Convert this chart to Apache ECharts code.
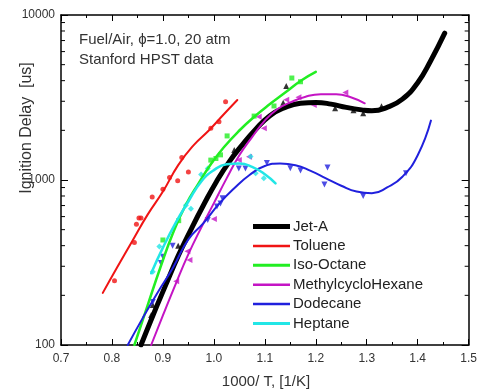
<!DOCTYPE html>
<html>
<head>
<meta charset="utf-8">
<script src="https://cdn.jsdelivr.net/npm/echarts@6/dist/echarts.min.js"></script>
<style>html,body{margin:0;padding:0;background:#fff;}#c{width:480px;height:391px;}</style>
</head>
<body>
<div id="c"></div>
<script>
// ---- data ----
var xTicks = [0.7, 0.8, 0.9, 1.0, 1.1, 1.2, 1.3, 1.4, 1.5];
var yTicks = [100, 1000, 10000];
var yMinor = [200, 300, 400, 500, 600, 700, 800, 900, 2000, 3000, 4000, 5000, 6000, 7000, 8000, 9000];

var jetALine = [[0.857,100],[0.88,150],[0.905,229],[0.93,347],[0.955,501],[0.98,708],[1.005,977],[1.03,1288],[1.055,1622],[1.08,1995],[1.11,2455],[1.14,2754],[1.17,2917],[1.20,2951],[1.23,2884],[1.26,2754],[1.29,2661],[1.31,2630],[1.34,2754],[1.37,3090],[1.40,3890],[1.425,5248],[1.453,7762]];
var tolueneLine = [[0.782,207],[0.81,295],[0.84,427],[0.87,617],[0.90,851],[0.93,1230],[0.96,1622],[0.99,1995],[1.02,2512],[1.046,3055]];
var isoOctaneLine = [[0.844,100],[0.87,174],[0.895,295],[0.92,479],[0.945,708],[0.97,955],[0.995,1259],[1.02,1585],[1.05,1995],[1.08,2427],[1.11,2884],[1.14,3388],[1.17,3981],[1.20,4519]];
var mchLine = [[0.877,100],[0.90,151],[0.925,234],[0.95,355],[0.975,513],[1.00,724],[1.025,1023],[1.05,1413],[1.075,1820],[1.10,2291],[1.125,2692],[1.15,2951],[1.18,3199],[1.21,3311],[1.24,3311],[1.27,3162],[1.296,2917]];
var dodecaneLine = [[0.831,100],[0.86,145],[0.89,209],[0.92,295],[0.95,437],[0.98,550],[1.01,716],[1.04,891],[1.07,1072],[1.10,1216],[1.13,1259],[1.16,1230],[1.19,1135],[1.22,1023],[1.25,923],[1.28,851],[1.31,832],[1.34,902],[1.37,1047],[1.40,1413],[1.426,2291]];
var heptaneLine = [[0.877,272],[0.90,389],[0.925,550],[0.95,741],[0.975,977],[1.00,1148],[1.025,1245],[1.05,1259],[1.075,1202],[1.10,1084],[1.121,955]];

var jetAPts = [[0.877,152],[0.880,175],[0.93,400],[1.040,1520],[1.136,2940],[1.142,3710],[1.238,2720],[1.274,2650],[1.293,2540],[1.329,2800]];
var toluenePts = [[0.805,245],[0.844,418],[0.848,540],[0.853,589],[0.857,589],[0.879,790],[0.900,880],[0.913,1036],[0.929,990],[0.937,1370],[0.950,1120],[0.994,2057],[1.010,2254],[1.023,2980]];
var isoOctanePts = [[0.900,433],[0.931,567],[0.994,1320],[1.004,1350],[1.013,1420],[1.026,1850],[1.079,2440],[1.118,2810],[1.153,4150],[1.170,3940]];
var mchPts = [[0.926,243],[0.948,370],[0.952,327],[1.000,580],[1.049,1320],[1.069,1384],[1.088,2420],[1.098,2057],[1.142,3060],[1.166,3170],[1.196,2850],[1.258,3390]];
var dodecanePts = [[0.880,182],[0.896,314],[0.900,343],[0.919,400],[0.988,572],[1.006,690],[1.013,720],[1.017,775],[1.049,1174],[1.062,1174],[1.104,1268],[1.150,1180],[1.170,1140],[1.217,940],[1.223,1190],[1.293,800],[1.377,1100]];
var heptanePts = [[0.880,278],[0.893,396],[0.945,704],[0.955,670],[0.975,1080],[0.988,1174],[1.072,1390],[1.082,1100],[1.098,1025]];

var names = ['Jet-A','Toluene','Iso-Octane','MethylcycloHexane','Dodecane','Heptane'];
var colors = ['#000000','#f01414','#22ee22','#c414c4','#2020dd','#22e6e6'];
var widths = [5, 2, 2.5, 2, 2, 2.5];
var lines = [jetALine, tolueneLine, isoOctaneLine, mchLine, dodecaneLine, heptaneLine];
var pts = [jetAPts, toluenePts, isoOctanePts, mchPts, dodecanePts, heptanePts];
var symbols = ['triangle','circle','rect','path://M0,5L10,0L10,10Z','path://M0,0L10,0L5,10Z','diamond'];
var symSizes = [6, 5, 5, 6, 6, 6];
var legendIcons = ['path://M0,0h37v5h-37z','path://M0,0h37v2.5h-37z','path://M0,0h37v3h-37z','path://M0,0h37v2.5h-37z','path://M0,0h37v2.5h-37z','path://M0,0h37v3h-37z'];

var FONT = "'Liberation Sans', Arial, sans-serif";
var series = [];
for (var i = 0; i < names.length; i++) {
  series.push({
    name: names[i], type: 'line', data: lines[i], smooth: 0.5, symbol: 'none',
    lineStyle: {color: colors[i], width: widths[i], cap: 'round', join: 'round'}, itemStyle: {color: colors[i]},
    z: 3, silent: true
  });
  series.push({
    name: names[i] + ' data', type: 'scatter', data: pts[i], symbol: symbols[i],
    symbolSize: symSizes[i], itemStyle: {color: colors[i]}, z: 2, silent: true
  });
}
series.push({
  name: 'minor', type: 'custom', silent: true, clip: false, z: 5,
  data: yMinor.map(function(v){ return [0.7, v]; }),
  renderItem: function(params, api) {
    var y = api.coord([api.value(0), api.value(1)])[1];
    var cs = params.coordSys;
    var len = 4;
    return {type: 'group', children: [
      {type: 'line', shape: {x1: cs.x, y1: y, x2: cs.x + len, y2: y}, style: {stroke: '#000', lineWidth: 1}},
      {type: 'line', shape: {x1: cs.x + cs.width - len, y1: y, x2: cs.x + cs.width, y2: y}, style: {stroke: '#000', lineWidth: 1}}
    ]};
  }
});

var xAxisBase = {
  type: 'value', min: xTicks[0], max: xTicks[xTicks.length - 1], interval: 0.1,
  axisLine: {show: true, onZero: false, lineStyle: {color: '#000', width: 1.5}},
  axisTick: {show: true, inside: true, length: 6, lineStyle: {color: '#000', width: 1}},
  minorTick: {show: true, splitNumber: 2, length: 3, lineStyle: {color: '#000', width: 1}},
  splitLine: {show: false}
};
var yAxisBase = {
  type: 'log', logBase: 10, min: yTicks[0], max: yTicks[yTicks.length - 1],
  axisLine: {show: true, onZero: false, lineStyle: {color: '#000', width: 1.5}},
  axisTick: {show: true, inside: true, length: 7, lineStyle: {color: '#000', width: 1}},
  splitLine: {show: false}
};

var option = {
  animation: false,
  backgroundColor: '#fff',
  grid: {left: 61, right: 9, top: 15, bottom: 46},
  title: {
    text: 'Fuel/Air, \u03D5=1.0, 20 atm\nStanford HPST data',
    left: 79, top: 30, padding: 0,
    textStyle: {fontFamily: FONT, fontSize: 15, fontWeight: 'normal', color: '#333', lineHeight: 20}
  },
  legend: {
    data: names.map(function(n, k){ return {name: n, icon: legendIcons[k]}; }),
    orient: 'vertical', left: 253, top: 219, padding: 0,
    itemWidth: 37, itemHeight: 14, itemGap: 4.4, symbolKeepAspect: true,
    textStyle: {fontFamily: FONT, fontSize: 15, color: '#222', lineHeight: 14, padding: [0,0,0,-2]}
  },
  xAxis: [
    Object.assign({}, xAxisBase, {position: 'bottom',
      axisLabel: {show: true, margin: 8, color: '#333', fontFamily: FONT, fontSize: 12,
        formatter: function(v){ return v.toFixed(1); }}}),
    Object.assign({}, xAxisBase, {position: 'top', axisLabel: {show: false}})
  ],
  yAxis: [
    Object.assign({}, yAxisBase, {position: 'left',
      axisLabel: {show: true, margin: 6, color: '#333',
        fontFamily: "'Liberation Sans Narrow', 'Liberation Sans', Arial, sans-serif", fontSize: 12,
        formatter: function(v){ return String(Math.round(v)); }}}),
    Object.assign({}, yAxisBase, {position: 'right', axisLabel: {show: false}})
  ],
  graphic: [
    {type: 'text', x: 27, y: 128, rotation: Math.PI / 2,
      style: {text: 'Ignition Delay  [us]', fontFamily: FONT, fontSize: 16, fill: '#333', align: 'center', verticalAlign: 'middle'}},
    {type: 'text', x: 266, y: 382,
      style: {text: '1000/ T, [1/K]', fontFamily: FONT, fontSize: 15, fill: '#333', align: 'center', verticalAlign: 'middle'}}
  ],
  series: series
};

var chart = echarts.init(document.getElementById('c'), null, {renderer: 'canvas'});
chart.setOption(option);
</script>
</body>
</html>
